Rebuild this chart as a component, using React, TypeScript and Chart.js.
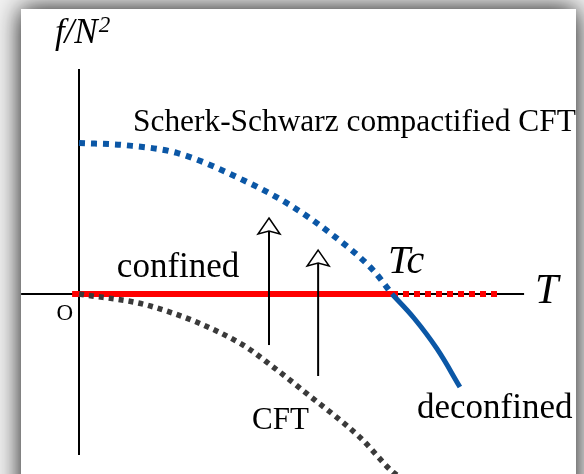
import { useEffect, useRef } from "react";
import { Chart, registerables } from "chart.js";

Chart.register(...registerables);

// Temperature in units of Tc, free energy f/N^2 in units of its T = 0 value.
const ssCftT = [0, 0.15, 0.313, 0.537, 0.674, 0.802, 0.939, 1.0];
const ssCftF = [1.0, 0.985, 0.934, 0.742, 0.589, 0.404, 0.159, 0];

const deconfinedT = [1.0, 1.07, 1.144, 1.217];
const deconfinedF = [0, -0.159, -0.364, -0.616];

const cftT = [0, 0.227, 0.514, 0.62, 0.728, 0.898, 1.003, 1.03];
const cftF = [0, -0.079, -0.325, -0.483, -0.66, -0.95, -1.18, -1.22];

const confinedT = [-0.022, 1.0];
const confinedF = [0, 0];

const metastableT = [1.0, 1.339];
const metastableF = [0, 0];

// Upward arrows: position on the T axis, foot and tip in f.
const arrowT = [0.607, 0.764];
const arrowFoot = [-0.338, -0.543];
const arrowTip = [0.503, 0.291];

// Axis line extents
const axisTRange = [-0.185, 1.422];
const axisFRange = [1.49, -1.066];

const BLUE = "#0b57a6";
const RED = "#ff0000";
const GREY = "#3a3a3a";
const SERIF = '"Liberation Serif", "Times New Roman", serif';

const pts = (xs: number[], ys: number[]) => xs.map((x, i) => ({ x, y: ys[i] }));

const frameBackground = {
  id: "frameBackground",
  beforeDraw(chart: any) {
    const { ctx, width, height } = chart;
    ctx.save();
    ctx.fillStyle = "#f2f2f2";
    ctx.fillRect(0, 0, width, height);
    ctx.shadowColor = "rgba(0,0,0,0.95)";
    ctx.shadowBlur = 24;
    ctx.fillStyle = "#ffffff";
    ctx.fillRect(21, 9, 555, height + 60);
    ctx.restore();
  },
};

const arrowHeads = {
  id: "arrowHeads",
  afterDatasetsDraw(chart: any) {
    const { ctx } = chart;
    const xs = chart.scales.x;
    const ys = chart.scales.y;
    ctx.save();
    arrowT.forEach((t, i) => {
      const x = xs.getPixelForValue(t);
      const tip = ys.getPixelForValue(arrowTip[i]);
      const len = 16;
      const half = 11;
      const notch = 3;
      ctx.beginPath();
      ctx.moveTo(x, tip);
      ctx.lineTo(x + half, tip + len);
      ctx.lineTo(x, tip + len - notch);
      ctx.lineTo(x - half, tip + len);
      ctx.closePath();
      ctx.fillStyle = "#ffffff";
      ctx.fill();
      ctx.lineWidth = 1.5;
      ctx.strokeStyle = "#000";
      ctx.lineJoin = "miter";
      ctx.stroke();
    });
    ctx.restore();
  },
};

const labels = {
  id: "labels",
  afterDraw(chart: any) {
    const { ctx } = chart;
    const px = (t: number) => chart.scales.x.getPixelForValue(t);
    const py = (f: number) => chart.scales.y.getPixelForValue(f);
    ctx.save();
    ctx.fillStyle = "#000";
    ctx.textBaseline = "alphabetic";
    ctx.textAlign = "left";
    const put = (text: string, t: number, f: number, font: string) => {
      ctx.font = font;
      ctx.fillText(text, px(t), py(f));
      return ctx.measureText(text).width;
    };
    // axis titles
    const w = put("f/N", -0.077, 1.662, `italic 35px ${SERIF}`);
    ctx.font = `italic 23px ${SERIF}`;
    ctx.fillText("2", px(-0.077) + w + 1, py(1.735));
    put("T", 1.457, -0.06, `italic 42px ${SERIF}`);
    put("Tc", 0.987, 0.139, `italic 40px ${SERIF}`);
    put("O", -0.072, -0.172, `23px ${SERIF}`);
    // curve labels
    put("Scherk-Schwarz compactified CFT", 0.1725, 1.079, `31.4px ${SERIF}`);
    put("confined", 0.121, 0.113, `35px ${SERIF}`);
    put("CFT", 0.553, -0.894, `31px ${SERIF}`);
    put("deconfined", 1.08, -0.821, `35px ${SERIF}`);
    ctx.restore();
  },
};

export default function App() {
  const canvasRef = useRef<HTMLCanvasElement | null>(null);

  useEffect(() => {
    const canvas = canvasRef.current;
    if (!canvas) return;

    // lower order is painted on top
    const line = (data: any[], color: string, width: number, dash: number[], order: number, extra: any = {}) => ({
      data,
      borderColor: color,
      backgroundColor: color,
      borderWidth: width,
      borderDash: dash,
      borderCapStyle: "butt",
      pointRadius: 0,
      showLine: true,
      fill: false,
      order,
      ...extra,
    });

    const arrowShafts = arrowT.map((t, i) =>
      line(
        [
          { x: t, y: arrowFoot[i] },
          { x: t, y: arrowTip[i] - 13 / 151 },
        ],
        "#000",
        2,
        [],
        0
      )
    );

    const chart = new Chart(canvas, {
      type: "scatter",
      data: {
        datasets: [
          ...arrowShafts,
          line(pts(deconfinedT, deconfinedF), BLUE, 5, [], 1, { tension: 0.4 }),
          line(pts(ssCftT, ssCftF), BLUE, 6, [6, 6], 2, { cubicInterpolationMode: "monotone" }),
          line(pts(cftT, cftF), GREY, 5.5, [5, 5], 3, { cubicInterpolationMode: "monotone" }),
          line(pts(metastableT, metastableF), RED, 6, [6, 5], 4),
          line(pts(confinedT, confinedF), RED, 6, [], 5),
          line(pts([axisTRange[0], axisTRange[1]], [0, 0]), "#000", 2, [], 6),
          line(pts([0, 0], [axisFRange[0], axisFRange[1]]), "#000", 2, [], 6),
        ],
      },
      options: {
        responsive: false,
        animation: false,
        devicePixelRatio: 1,
        layout: { padding: 0 },
        events: [],
        plugins: {
          legend: { display: false },
          tooltip: { enabled: false },
        },
        scales: {
          x: { type: "linear", display: false, min: -79 / 313, max: 505 / 313 },
          y: { type: "linear", display: false, min: -180 / 151, max: 294 / 151 },
        },
      } as any,
      plugins: [frameBackground, arrowHeads, labels],
    });

    return () => chart.destroy();
  }, []);

  return (
    <div style={{ position: "fixed", left: 0, top: 0, width: 584, height: 474, background: "#fff" }}>
      <canvas ref={canvasRef} width={584} height={474} style={{ display: "block" }} />
    </div>
  );
}
